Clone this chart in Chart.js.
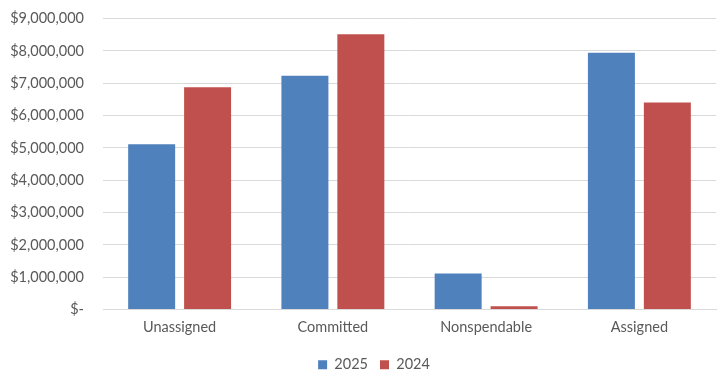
<!DOCTYPE html>
<html><head><meta charset="utf-8">
<script src="https://cdn.jsdelivr.net/npm/chart.js@4.4.1/dist/chart.umd.min.js"></script>
<style>html,body{margin:0;padding:0;background:#fff}#wrap{width:718px;height:371px}</style>
</head><body><div id="wrap"><canvas id="c" width="718" height="371"></canvas></div>
<script>
const categories = ['Unassigned', 'Committed', 'Nonspendable', 'Assigned'];
const values2025 = [5110000, 7230000, 1110000, 7940000];
const values2024 = [6870000, 8510000, 100000, 6400000];
const seriesNames = ['2025', '2024'];

const txt = '#595959';
const fnt = {family: 'Lato', size: 14.5};
const legendShift = {id: 'legendShift', afterLayout(c) { if (c.legend) c.legend.left += 32; }};
new Chart(document.getElementById('c'), {
  type: 'bar',
  data: {
    labels: categories,
    datasets: [
      {label: seriesNames[0], data: values2025, backgroundColor: '#4f81bd', categoryPercentage: 0.73, barPercentage: 0.84},
      {label: seriesNames[1], data: values2024, backgroundColor: '#c0504d', categoryPercentage: 0.73, barPercentage: 0.84}
    ]
  },
  plugins: [legendShift],
  options: {
    responsive: false,
    animation: false,
    layout: {autoPadding: false, padding: {left: 0, right: 2, top: 0, bottom: -11}},
    plugins: {
      legend: {position: 'bottom', labels: {boxWidth: 9, boxHeight: 9, color: txt, font: fnt, padding: 12}},
      tooltip: {enabled: false}
    },
    scales: {
      x: {
        grid: {display: false, drawTicks: false},
        border: {display: true, color: '#d9d9d9', width: 1},
        ticks: {color: txt, font: fnt, padding: 9.3}
      },
      y: {
        min: 0, max: 9000000,
        afterFit: s => { s.width = 103; },
        ticks: {stepSize: 1000000, color: txt, font: fnt, padding: 9.8,
          callback: v => v === 0 ? '$-' : '$' + v.toLocaleString('en-US')},
        grid: {color: '#d9d9d9', drawTicks: true, tickLength: 9.2, tickColor: 'rgba(0,0,0,0)'},
        border: {display: false}
      }
    }
  }
});
</script></body></html>
